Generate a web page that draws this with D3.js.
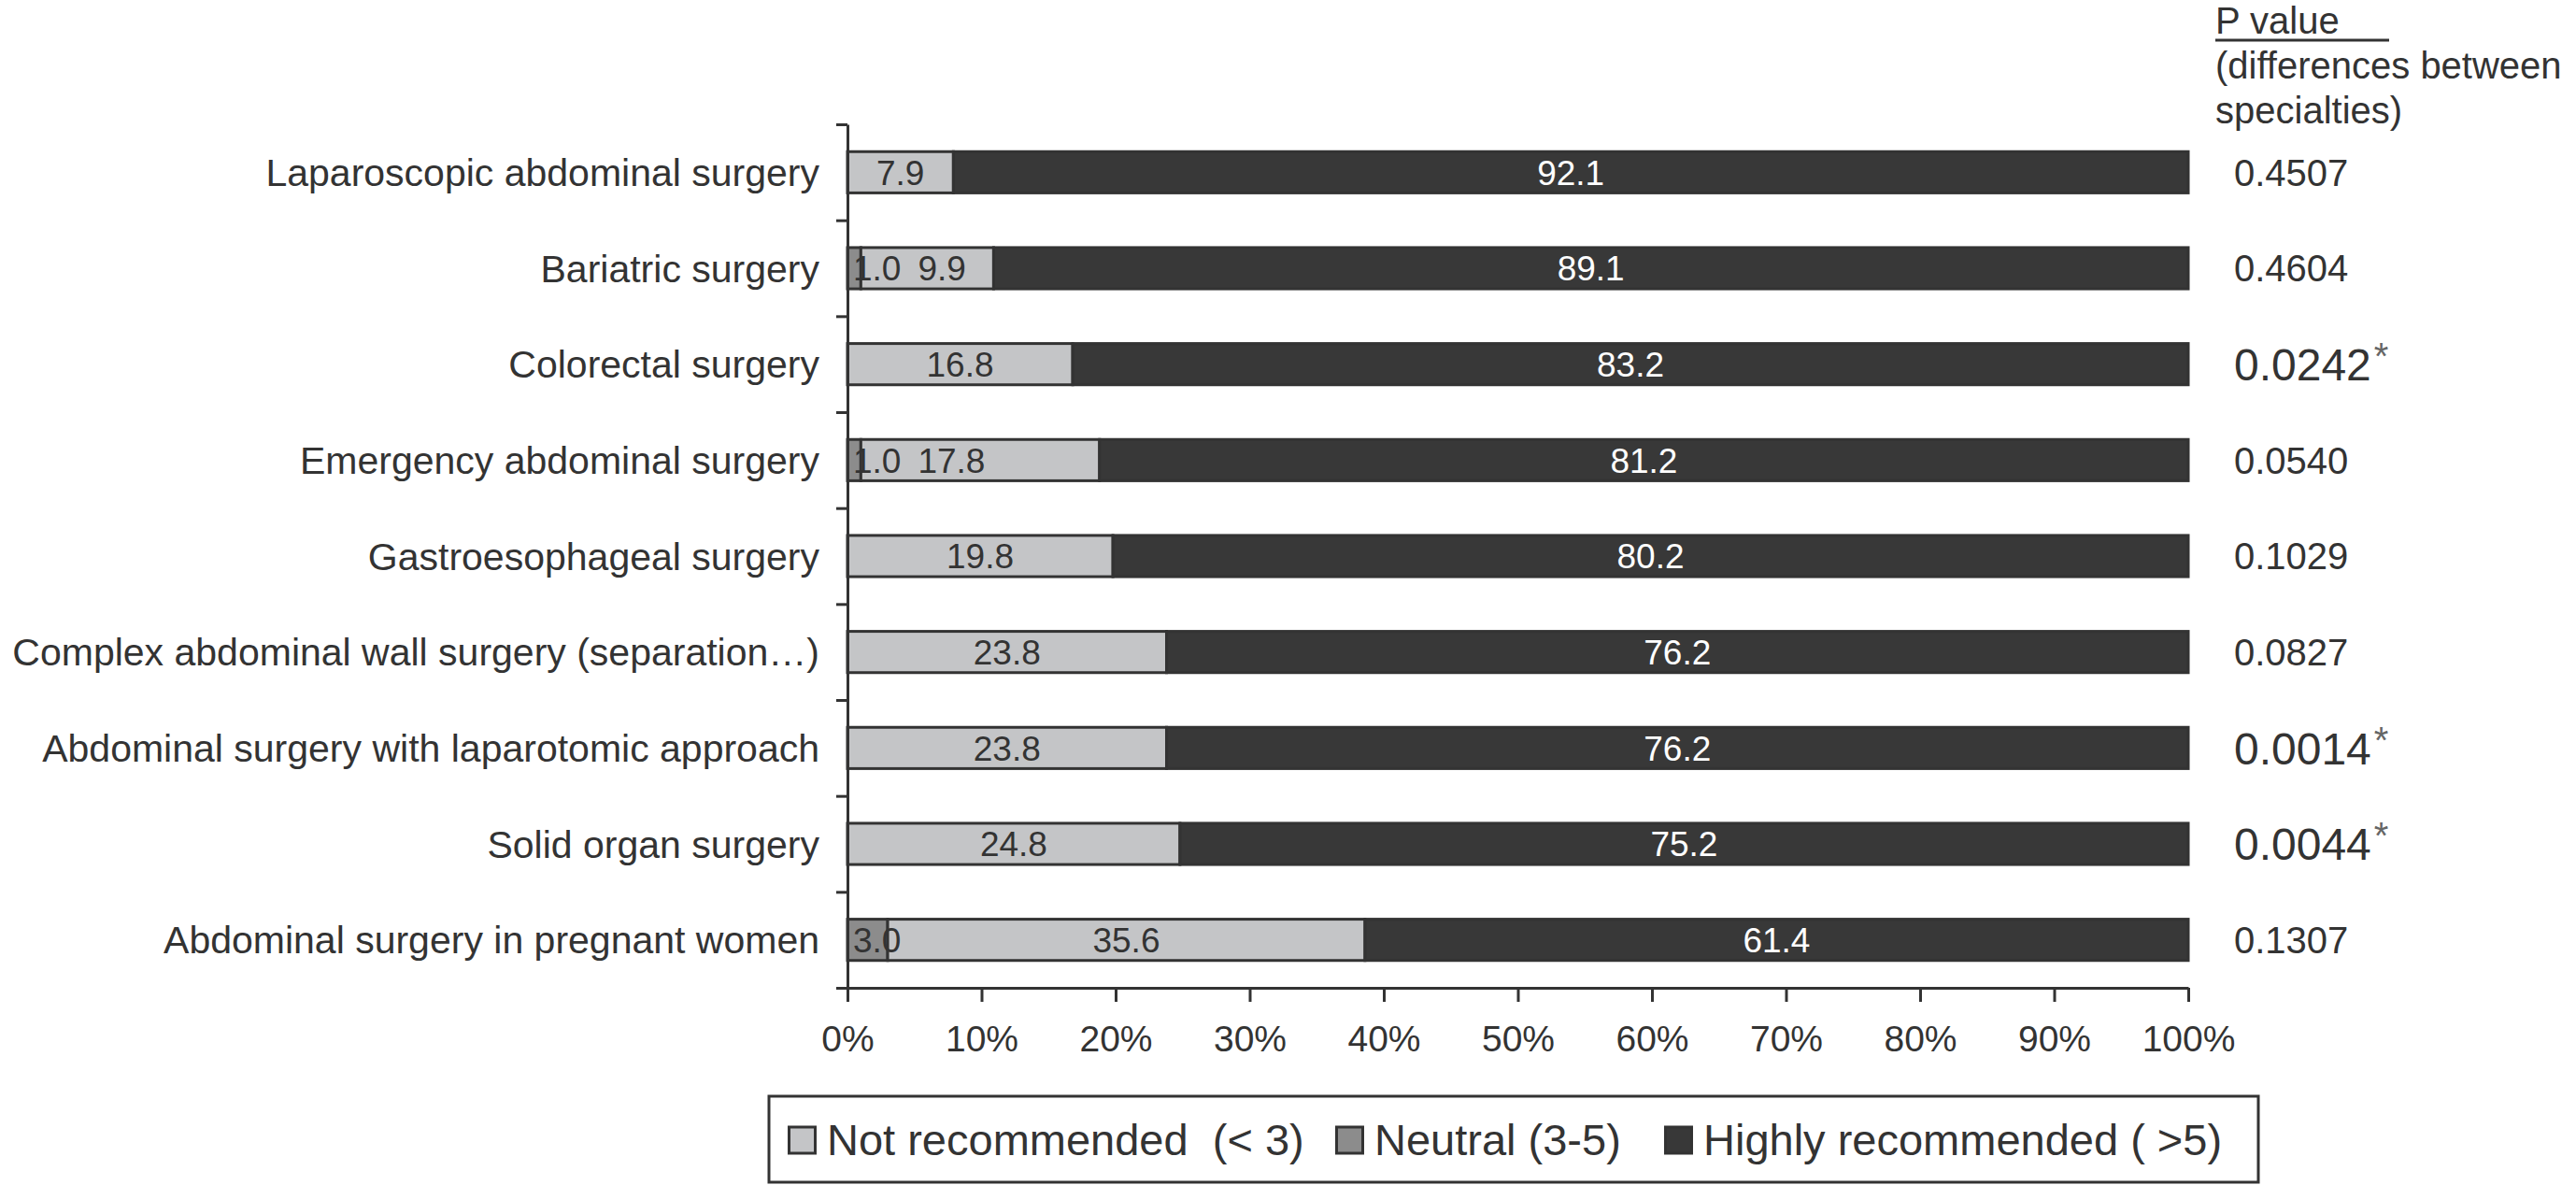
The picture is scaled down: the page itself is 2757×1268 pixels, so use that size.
<!DOCTYPE html>
<html lang="en">
<head>
<meta charset="UTF-8">
<title>Recommendation by type of surgery</title>
<script src="https://d3js.org/d3.v7.min.js"></script>
<style>
  body { margin: 0; background: #fff; }
  svg text { font-family: "Liberation Sans", Arial, sans-serif; fill: #333; white-space: pre; }
</style>
</head>
<body>
<svg id="chart"></svg>
<script>
const categories = [
  "Laparoscopic abdominal surgery",
  "Bariatric surgery",
  "Colorectal surgery",
  "Emergency abdominal surgery",
  "Gastroesophageal surgery",
  "Complex abdominal wall surgery (separation\u2026)",
  "Abdominal surgery with laparotomic approach",
  "Solid organ surgery",
  "Abdominal surgery in pregnant women"
];
const neutral = [0, 1.0, 0, 1.0, 0, 0, 0, 0, 3.0];
const notRecommended = [7.9, 9.9, 16.8, 17.8, 19.8, 23.8, 23.8, 24.8, 35.6];
const highlyRecommended = [92.1, 89.1, 83.2, 81.2, 80.2, 76.2, 76.2, 75.2, 61.4];
const pValues = ["0.4507", "0.4604", "0.0242", "0.0540", "0.1029", "0.0827", "0.0014", "0.0044", "0.1307"];
const significant = [false, false, true, false, false, false, true, true, false];
const xTicks = [0, 10, 20, 30, 40, 50, 60, 70, 80, 90, 100];
const legendNames = ["Not recommended  (< 3)", "Neutral (3-5)", "Highly recommended ( >5)"];

const width = 2757, height = 1268;
const plot = { left: 907, right: 2342, top: 133, bottom: 1057 };
const ink = "#333";

const keys = ["notRec", "neutral", "highly"];
const stackKeys = ["neutral", "notRec", "highly"];
const color = { notRec: "#c4c5c7", neutral: "#8c8c8c", highly: "#383838" };

const svg = d3.select("#chart")
  .attr("width", width)
  .attr("height", height);

const rows = categories.map((c, i) => ({
  category: c,
  neutral: neutral[i],
  notRec: notRecommended[i],
  highly: highlyRecommended[i]
}));

const series = d3.stack().keys(stackKeys)(rows);

const x = d3.scaleLinear().domain([0, 100]).range([plot.left, plot.right]);
const y = d3.scaleBand().domain(categories)
  .range([plot.top, plot.bottom])
  .paddingInner(0.57).paddingOuter(0.285);
const yEdge = d3.scaleLinear().domain([0, categories.length]).range([plot.top, plot.bottom]);

// flat list of segments, keeps the key for colouring
const segments = series.flatMap(s => s
  .filter(d => d[1] - d[0] > 0)
  .map(d => ({ key: s.key, x0: d[0], x1: d[1], category: d.data.category })));

// stacked bars
svg.append("g").selectAll("rect")
  .data(segments)
  .join("rect")
  .attr("x", d => x(d.x0))
  .attr("y", d => y(d.category))
  .attr("width", d => x(d.x1) - x(d.x0))
  .attr("height", y.bandwidth())
  .attr("fill", d => color[d.key])
  .attr("stroke", ink)
  .attr("stroke-width", 3);

// y axis with ticks between categories
const yAxis = svg.append("g")
  .attr("transform", `translate(${plot.left},0)`)
  .call(d3.axisLeft(yEdge)
    .tickValues(d3.range(categories.length + 1))
    .tickFormat("")
    .tickSizeInner(12)
    .tickSizeOuter(0));
yAxis.select(".domain").attr("stroke", ink).attr("stroke-width", 3);
yAxis.selectAll(".tick line").attr("stroke", ink).attr("stroke-width", 3);

// value labels, drawn above every bar
const labelEnd = {};  // right end of the neutral label per category
svg.append("g").selectAll("text")
  .data(segments)
  .join("text")
  .attr("x", d => (x(d.x0) + x(d.x1)) / 2)
  .attr("y", d => y(d.category) + y.bandwidth() / 2)
  .attr("dy", "0.36em")
  .attr("text-anchor", "middle")
  .style("font-size", "37px")
  .style("fill", d => d.key === "highly" ? "#fff" : ink)
  .text(d => (d.x1 - d.x0).toFixed(1))
  .each(function (d) {
    const w = this.getComputedTextLength();
    const segW = x(d.x1) - x(d.x0);
    if (d.key === "neutral" && w > segW) {
      // narrow neutral segment: label starts just inside the bar
      d3.select(this).attr("text-anchor", "start").attr("x", x(d.x0) + 6);
      labelEnd[d.category] = x(d.x0) + 6 + w;
    } else if (d.key === "notRec" && labelEnd[d.category] && segW < 300) {
      // follows the neutral label, as in "1.0 9.9"
      d3.select(this).attr("text-anchor", "start").attr("x", labelEnd[d.category] + 18);
    }
  });

// category labels
svg.append("g").selectAll("text")
  .data(categories)
  .join("text")
  .attr("x", plot.left - 30)
  .attr("y", d => y(d) + y.bandwidth() / 2)
  .attr("dy", "0.36em")
  .attr("text-anchor", "end")
  .style("font-size", "41px")
  .text(d => d);

// x axis
const xAxis = svg.append("g")
  .attr("transform", `translate(0,${plot.bottom})`)
  .call(d3.axisBottom(x)
    .tickValues(xTicks)
    .tickFormat(d => d + "%")
    .tickSizeInner(15)
    .tickSizeOuter(0)
    .tickPadding(25));
xAxis.select(".domain").attr("stroke", ink).attr("stroke-width", 3);
xAxis.selectAll(".tick line").attr("stroke", ink).attr("stroke-width", 3);
xAxis.selectAll(".tick text")
  .attr("fill", null)
  .style("font-size", "39px")
  .style("font-family", "\"Liberation Sans\", Arial, sans-serif");

// p values column
const pCol = svg.append("g");
pCol.append("text").attr("x", 2371).attr("y", 36).style("font-size", "40px").text("P value");
pCol.append("line")
  .attr("x1", 2371).attr("x2", 2557)
  .attr("y1", 43).attr("y2", 43)
  .attr("stroke", ink).attr("stroke-width", 3);
pCol.append("text").attr("x", 2371).attr("y", 84).style("font-size", "40px").text("(differences between");
pCol.append("text").attr("x", 2371).attr("y", 132).style("font-size", "40px").text("specialties)");

const pText = pCol.selectAll("text.p")
  .data(categories)
  .join("text")
  .attr("class", "p")
  .attr("x", 2391)
  .attr("y", d => y(d) + y.bandwidth() / 2)
  .attr("dy", "0.36em")
  .style("font-size", (d, i) => significant[i] ? "48px" : "40px");
pText.append("tspan").text((d, i) => pValues[i]);
pText.filter((d, i) => significant[i])
  .append("tspan")
  .attr("dx", 3)
  .attr("dy", -12)
  .style("font-size", "40px")
  .style("fill", "#666")
  .text("*");

// legend
const legendX = [843, 1429, 1781];
const legend = svg.append("g");
legend.append("rect")
  .attr("x", 823).attr("y", 1173)
  .attr("width", 1594).attr("height", 92)
  .attr("fill", "none")
  .attr("stroke", ink)
  .attr("stroke-width", 3);

const items = legend.selectAll("g.item")
  .data(keys)
  .join("g")
  .attr("class", "item")
  .attr("transform", (d, i) => `translate(${legendX[i]},0)`);
items.append("rect")
  .attr("x", 1.5).attr("y", 1206)
  .attr("width", 28).attr("height", 28)
  .attr("fill", d => color[d])
  .attr("stroke", ink)
  .attr("stroke-width", 3);
items.append("text")
  .attr("x", 42)
  .attr("y", 1236)
  .style("font-size", "47px")
  .text((d, i) => legendNames[i]);
</script>
</body>
</html>
